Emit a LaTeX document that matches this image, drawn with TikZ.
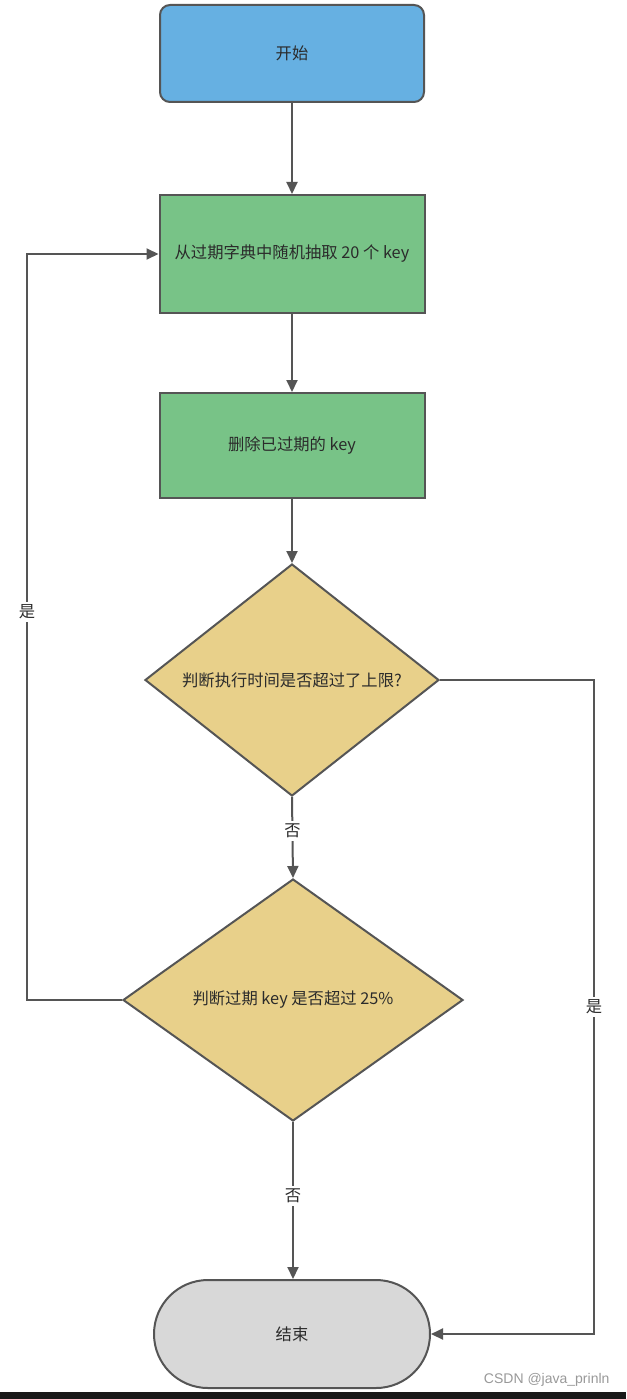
\documentclass[tikz,border=0pt]{standalone}
\usepackage{fontspec}
\setmainfont{Noto Sans CJK SC}
\newfontfamily\wmfont{Liberation Sans}
\usetikzlibrary{shapes.geometric,shapes.misc,arrows.meta}
\definecolor{lineclr}{HTML}{555555}
\definecolor{startclr}{HTML}{66B0E2}
\definecolor{procclr}{HTML}{78C387}
\definecolor{decclr}{HTML}{E8D08A}
\definecolor{endclr}{HTML}{D8D8D8}
\definecolor{txtclr}{HTML}{2B2B2B}
\tikzset{
  txtfont/.style={font=\fontsize{16.3}{19}\selectfont, text=txtclr},
  base/.style={draw=lineclr, line width=2pt, txtfont, inner sep=0pt},
  startbox/.style={base, fill=startclr, rounded corners=10pt, minimum width=264pt, minimum height=97pt},
  procbox/.style={base, fill=procclr, minimum width=265pt},
  decbox/.style={base, fill=decclr, diamond},
  endbox/.style={base, fill=endclr, rounded rectangle, minimum width=276pt, minimum height=108pt},
  conn/.style={draw=lineclr, line width=2pt, -{Triangle[length=12pt,width=11pt]}},
  lbl/.style={fill=white, txtfont, inner sep=3pt}
}
\begin{document}
\begin{tikzpicture}[x=1pt,y=-1pt]
\useasboundingbox (0,0) rectangle (626,1399);
\fill[white] (0,0) rectangle (626,1399);
\fill[black!90] (0,1392) rectangle (626,1399);

\node[startbox] (start) at (292,53.5) {开始};
\node[procbox, minimum height=118pt] (pick) at (292,254) {从过期字典中随机抽取 20 个 key};
\node[procbox, minimum height=105pt] (del) at (292,445.5) {删除已过期的 key};
\node[decbox, minimum width=294pt, minimum height=232pt, shape aspect=1.27] (d1) at (292,680) {};
\node[txtfont] (d1t) at (292,680) {判断执行时间是否超过了上限?};
\node[decbox, minimum width=340pt, minimum height=242pt, shape aspect=1.4] (d2) at (293,1000) {};
\node[txtfont] (d2t) at (293,1000) {判断过期 key 是否超过 25\%};
\node[endbox] (end) at (292,1334) {结束};

\coordinate (lc1) at (27,1000);
\coordinate (lc2) at (27,254);
\coordinate (rc1) at (594,680);
\coordinate (rc2) at (594,1334);

\draw[conn] (start.south) -- (pick.north);
\draw[conn] (pick.south) -- (del.north);
\draw[conn] (del.south) -- (d1.north);
\draw[conn] (d1.south) -- node[lbl, pos=0.42] (no1) {否} (d2.north);
\draw[conn] (d2.south) -- node[lbl, pos=0.47] (no2) {否} (d2.south |- end.north);
\draw[conn] (d2.west) -- (lc1) -- node[lbl, pos=0.52] (yes1) {是} (lc2) -- (pick.west);
\draw[conn] (d1.east) -- (rc1) -- node[lbl, pos=0.5] (yes2) {是} (rc2) -- (end.east);

\node[font=\wmfont\fontsize{14}{16}\selectfont, text=black!40, anchor=east] (wm) at (613,1380) {CSDN @java\_prinln};
\end{tikzpicture}
\end{document}
